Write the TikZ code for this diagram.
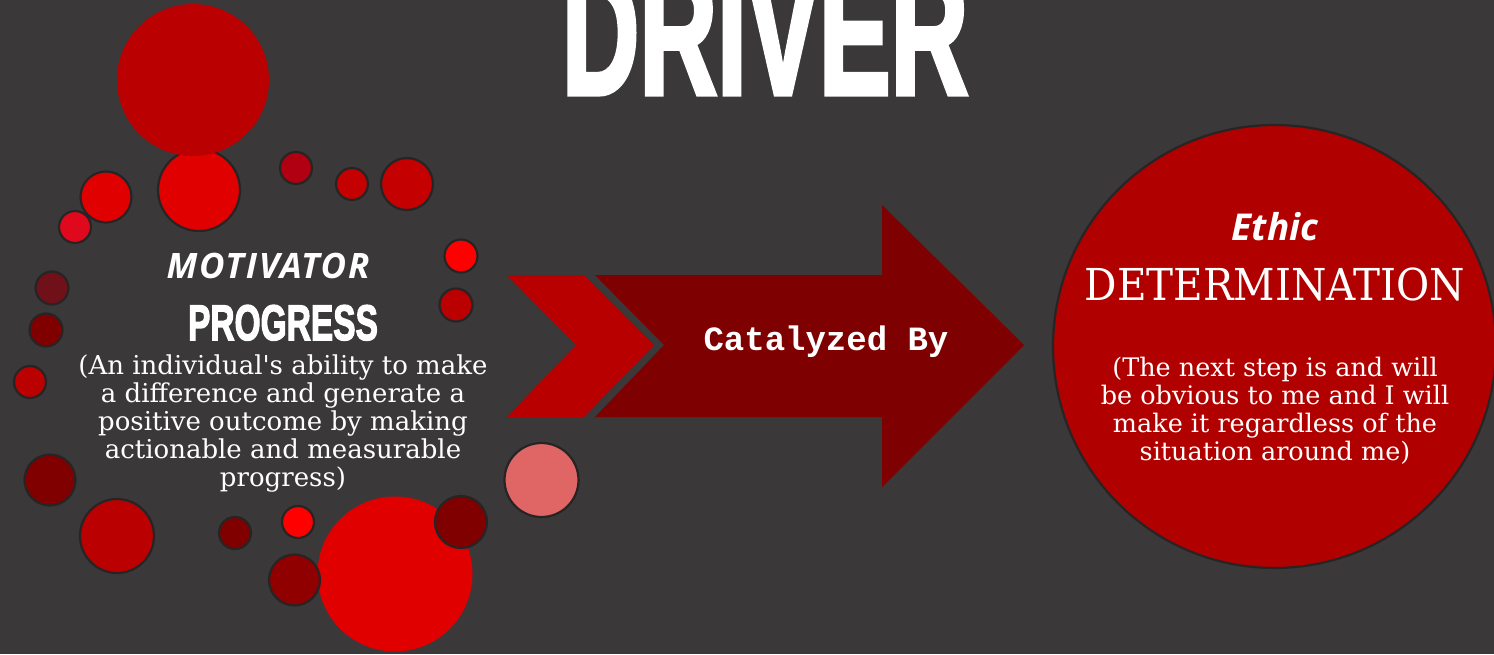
\documentclass[tikz,border=0pt]{standalone}
\usepackage{graphicx}
\usepackage{fontspec}
\setmainfont{DejaVu Serif}[Ligatures=TeXOff]
\newfontfamily\opensans{Open Sans}
\newfontfamily\libsans{Liberation Sans}
\newfontfamily\libsansfb{Liberation Sans}[FakeBold=3]
\newfontfamily\libmono{Liberation Mono}
\definecolor{bg}{HTML}{3A3839}
\definecolor{ring}{HTML}{262425}
\definecolor{cA}{HTML}{BA0000}
\definecolor{cB}{HTML}{E10000}
\definecolor{cC}{HTML}{E0081C}
\definecolor{cD}{HTML}{B10012}
\definecolor{cE}{HTML}{C40000}
\definecolor{cF}{HTML}{FF0000}
\definecolor{cG}{HTML}{701018}
\definecolor{cH}{HTML}{800000}
\definecolor{cI}{HTML}{900000}
\definecolor{cPink}{HTML}{E06666}
\definecolor{arrowdark}{HTML}{7F0000}
\definecolor{chev}{HTML}{B80000}
\definecolor{bigred}{HTML}{B00000}
\tikzset{
  dot/.style={draw=ring, line width=2.2pt},
  wtext/.style={text=white, inner sep=0pt},
}
\begin{document}
\begin{tikzpicture}[x=1pt,y=-1pt]
\useasboundingbox (0,0) rectangle (1494,654);
\fill[bg] (0,0) rectangle (1494,654);
\begin{scope}
\clip (0,0) rectangle (1494,654);
% left cluster of circles
\filldraw[dot, fill=cB] (199,190) circle (41pt);
\fill[cA] (193,80) circle (76pt);
\filldraw[dot, fill=cB] (106,197) circle (25.5pt);
\filldraw[dot, fill=cC] (75,227) circle (16pt);
\filldraw[dot, fill=cD] (296,168) circle (16pt);
\filldraw[dot, fill=cE] (352,184) circle (16pt);
\filldraw[dot, fill=cE] (407,184) circle (26pt);
\filldraw[dot, fill=cF] (461,256) circle (16.5pt);
\filldraw[dot, fill=cA] (456,305) circle (16.5pt);
\filldraw[dot, fill=cG] (52,288) circle (16.5pt);
\filldraw[dot, fill=cH] (46,330) circle (16.5pt);
\filldraw[dot, fill=cA] (30,382) circle (16pt);
\filldraw[dot, fill=cH] (50,480) circle (25.5pt);
\filldraw[dot, fill=cA] (117,536) circle (37pt);
\filldraw[dot, fill=cH] (235,533) circle (16pt);
\filldraw[dot, fill=cF] (298,522) circle (16pt);
\fill[cB] (395,574) circle (77.5pt);
\filldraw[dot, fill=cI] (294.5,580) circle (25.5pt);
\filldraw[dot, fill=cH] (461,522) circle (26pt);
\filldraw[dot, fill=cPink] (541.5,480) circle (37pt);
% arrow
\fill[chev] (507,275) -- (584,275) -- (654,345) -- (584,417) -- (507,417) -- (576,345) -- cycle;
\fill[arrowdark] (595,275) -- (882,275) -- (882,205) -- (1024,345) -- (882,487) -- (882,417) -- (595,417) -- (664,345) -- cycle;
% right circle
\filldraw[draw=ring, line width=2.2pt, fill=bigred] (1274.5,346.5) circle (221.5pt);
\end{scope}
% texts
\node[wtext, anchor=base] (title) at (765,94) {\libsansfb\bfseries\fontsize{175}{175}\selectfont\scalebox{0.615}[1]{DRIVER}};
\node[wtext, anchor=base] (motivator) at (268,278) {\opensans\bfseries\itshape\fontsize{35}{35}\selectfont\addfontfeature{LetterSpace=5}MOTIVATOR};
\node[wtext, anchor=base] (progress) at (283,340) {\libsansfb\bfseries\fontsize{50}{50}\selectfont\scalebox{0.67}[1]{PROGRESS}};
\node[wtext, anchor=north, align=center, font=\fontsize{26}{28}\selectfont] (progdesc) at (283,355)
  {(An individual's ability to make\\a difference and generate a\\positive outcome by making\\actionable and measurable\\progress)};
\node[wtext, anchor=base] (catalyzed) at (826,350) {\libmono\bfseries\fontsize{34}{34}\selectfont Catalyzed By};
\node[wtext, anchor=base] (ethic) at (1275,240) {\opensans\bfseries\itshape\fontsize{37}{37}\selectfont Ethic};
\node[wtext, anchor=base] (determination) at (1275,300) {\fontsize{44}{44}\selectfont\scalebox{0.92}[1]{DETERMINATION}};
\node[wtext, anchor=north, align=center, font=\fontsize{25.5}{28}\selectfont] (detdesc) at (1275,357)
  {(The next step is and will\\be obvious to me and I will\\make it regardless of the\\situation around me)};
\end{tikzpicture}
\end{document}
